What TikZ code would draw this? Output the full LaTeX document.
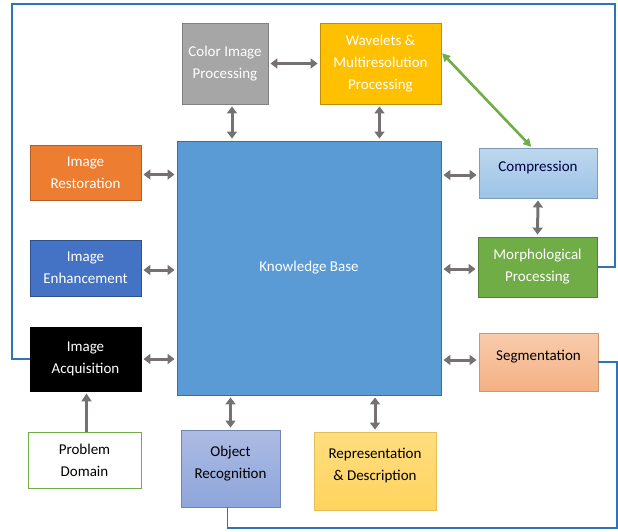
\documentclass[tikz,border=0pt]{standalone}
\usepackage{fontspec}
\setmainfont{Carlito}
\usetikzlibrary{arrows.meta,calc}

\definecolor{arrowgray}{HTML}{767171}
\definecolor{loopblue}{HTML}{2E75B6}
\definecolor{kbblue}{HTML}{5B9BD5}
\definecolor{wavegold}{HTML}{FFC000}
\definecolor{restorange}{HTML}{ED7D31}
\definecolor{enhblue}{HTML}{4472C4}
\definecolor{morphgreen}{HTML}{70AD47}
\definecolor{comptop}{HTML}{BDD7EE}
\definecolor{compbot}{HTML}{9DC3E6}
\definecolor{segtop}{HTML}{F8CBAD}
\definecolor{segbot}{HTML}{F4B183}
\definecolor{objtop}{HTML}{ACBBE3}
\definecolor{objbot}{HTML}{8EA6DA}
\definecolor{reptop}{HTML}{FFDE80}
\definecolor{repbot}{HTML}{FFD45E}

\tikzset{
	box/.style={draw, line width=0.9pt, inner sep=0pt, align=center, text=white,
		font=\fontsize{15}{22}\selectfont},
	txt/.style={align=center, font=\fontsize{15}{22}\selectfont},
	uptext/.style={label={[txt,yshift=5pt,text=#1]center:\uplabel}},
	biarrow/.style={{Triangle[width=10pt,length=7pt]}-{Triangle[width=10pt,length=7pt]},
		line width=3pt, arrowgray, shorten <=2pt, shorten >=2pt},
	uparrow/.style={-{Triangle[width=10pt,length=8pt]}, line width=3pt, arrowgray, shorten >=2pt},
	greenarrow/.style={{Triangle[width=8pt,length=8pt]}-{Triangle[width=8pt,length=8pt]},
		line width=2.6pt, morphgreen, shorten <=1pt, shorten >=1pt},
	feedback/.style={line width=1.8pt, loopblue}
}

\begin{document}
\begin{tikzpicture}[x=1pt, y=-1pt]
			%%%%% START %%%%%
			\useasboundingbox (0,0) rectangle (618,531);
			
			% top row
			\node[box, fill=black!35, draw=black!50, minimum width=86pt, minimum height=81pt] (color) at (225,63.5) {Color Image\\Processing};
			\node[box, fill=wavegold, draw=wavegold!75!black, minimum width=121pt, minimum height=81pt] (wave) at (380.5,63.5) {Wavelets \&\\Multiresolution\\Processing};
			
			% centre
			\node[box, fill=kbblue, draw=kbblue!70!black, minimum width=264pt, minimum height=254pt] (kb) at (309,268) {Knowledge Base};
			
			% left column
			\node[box, fill=restorange, draw=restorange!75!black, minimum width=111pt, minimum height=55pt] (rest) at (85.5,172.5) {Image\\Restoration};
			\node[box, fill=enhblue, draw=enhblue!70!black, minimum width=111pt, minimum height=56pt] (enh) at (85.5,268) {Image\\Enhancement};
			\node[box, fill=black, draw=black, minimum width=111pt, minimum height=64pt] (acq) at (85.5,359) {Image\\Acquisition};
			\node[box, fill=white, draw=morphgreen, text=black, minimum width=113pt, minimum height=56pt] (prob) at (84.5,460) {Problem\\Domain};
			
			% right column
			\def\uplabel{Compression}
			\node[box, top color=comptop, bottom color=compbot, draw=compbot!80!black, minimum width=118pt, minimum height=50pt, uptext=black!75!blue] (comp) at (538,173) {};
			\node[box, fill=morphgreen, draw=morphgreen!75!black, minimum width=119pt, minimum height=60pt] (morph) at (537.5,267) {Morphological\\Processing};
			\def\uplabel{Segmentation}
			\node[box, top color=segtop, bottom color=segbot, draw=segbot!85!black, minimum width=119pt, minimum height=58pt, uptext=black] (seg) at (538.5,362) {};
			
			% bottom row
			\def\uplabel{Object\\Recognition}
			\node[box, top color=objtop, bottom color=objbot, draw=objbot!80!black, minimum width=99pt, minimum height=77pt, uptext=black] (obj) at (230.5,468.5) {};
			\def\uplabel{Representation\\\& Description}
			\node[box, top color=reptop, bottom color=repbot, draw=repbot!90!black, minimum width=122pt, minimum height=78pt, uptext=black] (rep) at (375,471) {};
			
			% gray links
			\draw[biarrow] (color.east) -- (wave.west);
			\draw[biarrow] ([xshift=7pt]color.south) -- ([xshift=7pt]color.south |- kb.north);
			\draw[biarrow] ([xshift=-1pt]wave.south) -- ([xshift=-1pt]wave.south |- kb.north);
			\draw[biarrow] ([yshift=-2pt]rest.east) -- ([yshift=-2pt]rest.east -| kb.west);
			\draw[biarrow] ([yshift=-2pt]enh.east) -- ([yshift=-2pt]enh.east -| kb.west);
			\draw[biarrow] (acq.east) -- (acq.east -| kb.west);
			\draw[biarrow] ([yshift=-2pt]comp.west -| kb.east) -- ([yshift=-2pt]comp.west);
			\draw[biarrow] ([yshift=-2pt]morph.west -| kb.east) -- ([yshift=-2pt]morph.west);
			\draw[biarrow] ([yshift=2pt]seg.west -| kb.east) -- ([yshift=2pt]seg.west);
			\draw[biarrow] (comp.south) -- (morph.south |- morph.north);
			\draw[biarrow] (obj.north |- kb.south) -- (obj.north);
			\draw[biarrow] (rep.north |- kb.south) -- (rep.north);
			\draw[uparrow] ([xshift=2pt]prob.north) -- ([xshift=2pt]prob.north |- acq.south);
			
			% green link
			\draw[greenarrow] ([yshift=11pt]wave.east) -- ([xshift=-6pt]comp.north);
			
			% feedback loops
			\coordinate (tl) at (12,4);
			\coordinate (tr) at (615,4);
			\coordinate (br) at (617,528);
			\draw[feedback] (acq.west) -| (tl) -| (tr) |- (morph.east);
			\draw[feedback] (seg.east) -| (br) -| ([xshift=-3pt]obj.south);
			
			%%%%% END %%%%%
\end{tikzpicture}
\end{document}
